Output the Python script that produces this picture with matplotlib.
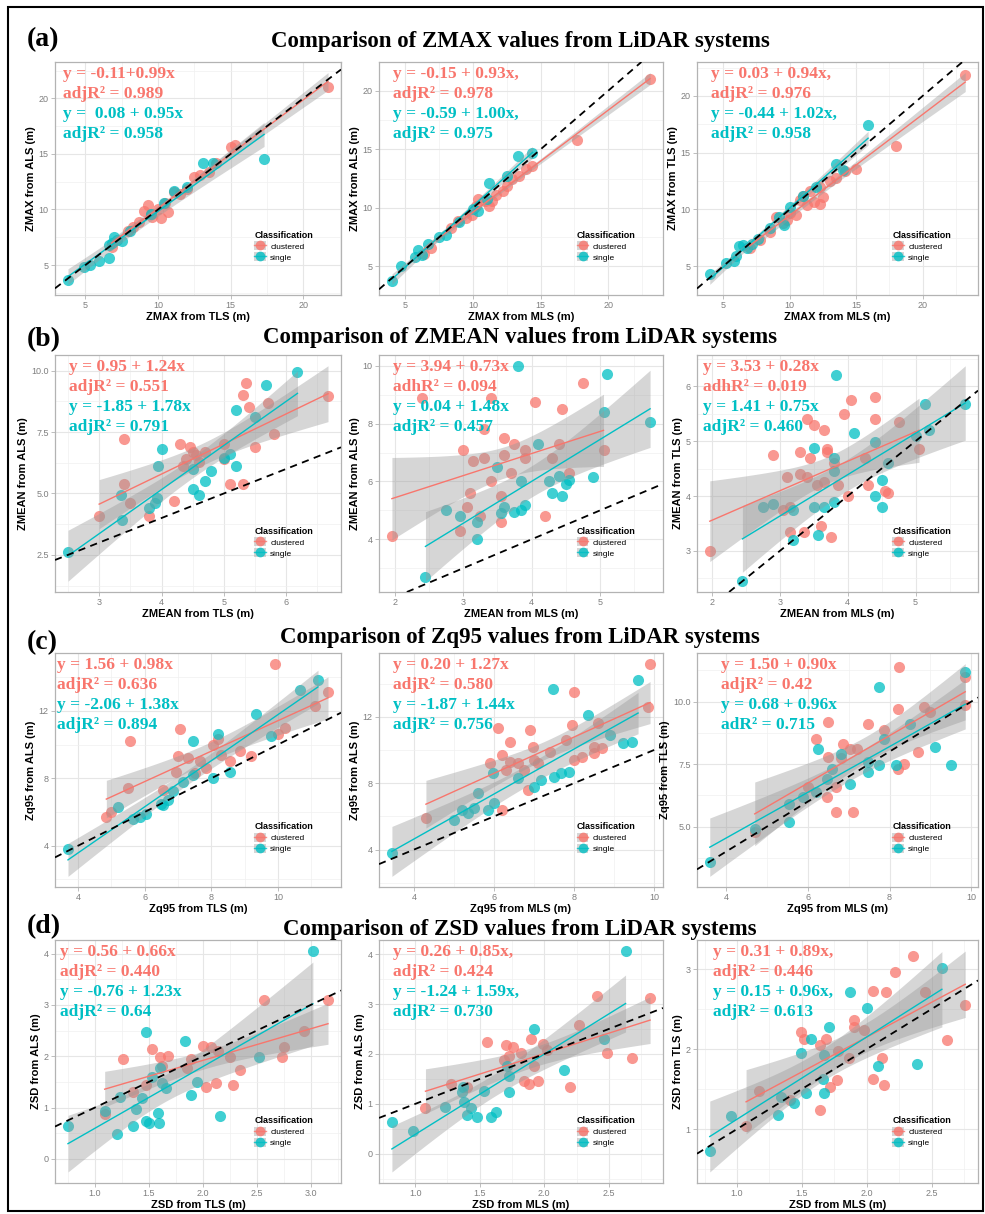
import numpy as np
import matplotlib
matplotlib.use("Agg")
import matplotlib.pyplot as plt
from matplotlib.patches import Patch, Rectangle
from matplotlib.lines import Line2D

CLU = "#F8766D"
SIN = "#00BFC4"
SERIF = "Liberation Serif"
SANS = "Liberation Sans"

# ---------------- (a) ZMAX ----------------
a1_clu_x = [21.7, 15.0, 15.3, 12.9, 12.5, 11.1, 11.5, 9.0, 9.5, 10.0, 10.7, 8.7, 8.3, 7.9, 9.3, 9.6, 10.5, 12.0, 13.5, 14.0, 6.8, 10.2]
a1_clu_y = [21.0, 15.6, 15.8, 13.1, 12.9, 11.6, 11.4, 9.9, 9.6, 10.0, 9.8, 8.9, 8.4, 8.1, 10.4, 9.3, 10.6, 11.8, 13.4, 14.2, 6.6, 9.2]
a1_sin_x = [3.8, 4.9, 5.9, 6.6, 6.8, 7.2, 7.0, 6.6, 8.1, 13.1, 13.8, 17.3, 11.1, 10.4, 9.5, 12.0, 5.3, 7.5]
a1_sin_y = [3.7, 4.8, 5.4, 5.6, 7.0, 7.3, 7.5, 6.8, 8.1, 14.2, 14.2, 14.5, 11.7, 10.6, 9.6, 12.0, 5.0, 7.2]

a2_clu_x = [23.1, 17.7, 13.9, 13.4, 14.4, 10.4, 10.9, 11.4, 11.7, 11.2, 10.2, 9.9, 9.5, 8.9, 8.4, 6.9, 12.2, 12.5, 12.9, 6.4]
a2_clu_y = [21.0, 15.8, 13.3, 12.7, 13.6, 10.8, 10.6, 10.6, 11.1, 10.2, 10.2, 9.4, 9.1, 8.9, 8.3, 6.6, 11.4, 11.9, 12.5, 6.1]
a2_sin_x = [4.0, 4.7, 5.7, 6.2, 5.9, 6.7, 7.5, 8.0, 10.4, 13.3, 14.4, 12.5, 11.2, 9.0, 10.0, 11.0]
a2_sin_y = [3.8, 5.0, 5.8, 6.0, 6.4, 6.9, 7.5, 7.7, 9.7, 14.4, 14.7, 12.7, 12.1, 8.8, 9.9, 10.8]

a3_clu_x = [23.2, 18.0, 10.8, 11.3, 11.8, 12.3, 12.5, 11.5, 10.0, 9.8, 9.5, 12.3, 13.5, 14.2, 15.0, 7.8, 7.0, 9.0, 8.5, 10.5, 13.0, 11.0]
a3_clu_y = [21.8, 15.6, 10.8, 10.4, 10.7, 10.5, 11.1, 11.6, 9.7, 9.1, 8.8, 12.0, 12.8, 13.4, 13.6, 7.3, 6.6, 9.3, 8.0, 9.5, 12.5, 11.2]
a3_sin_x = [4.0, 5.2, 5.8, 6.2, 6.5, 6.8, 7.2, 7.6, 6.0, 8.5, 9.2, 10.0, 11.0, 12.0, 13.5, 15.9, 14.0, 9.6]
a3_sin_y = [4.3, 5.3, 5.5, 6.8, 6.9, 6.6, 7.0, 7.4, 5.9, 8.4, 9.3, 10.2, 11.2, 12.0, 14.0, 17.4, 13.5, 8.6]

# ---------------- (b) ZMEAN ----------------
b1_clu_x = [6.67, 5.35, 5.3, 5.4, 5.7, 5.8, 5.5, 5.0, 4.7, 4.45, 4.5, 4.4, 4.35, 4.6, 4.55, 3.4, 3.4, 3.5, 3.8, 3.0, 4.2, 5.1, 5.3, 5.0, 4.3]
b1_clu_y = [8.95, 9.5, 9.0, 8.5, 8.7, 7.4, 6.9, 7.0, 6.7, 6.9, 6.7, 6.4, 6.1, 6.3, 6.55, 7.2, 5.4, 4.6, 4.1, 4.1, 4.7, 5.4, 5.4, 6.4, 7.0]
b1_sin_x = [2.5, 6.18, 5.68, 5.2, 4.0, 3.95, 5.2, 5.1, 5.0, 4.8, 4.7, 4.5, 4.5, 4.6, 3.93, 3.9, 3.8, 3.37, 5.5, 3.35]
b1_sin_y = [2.6, 9.95, 9.4, 8.4, 6.8, 6.1, 6.1, 6.6, 6.45, 5.9, 5.5, 6.0, 5.2, 4.95, 4.8, 4.6, 4.4, 3.9, 8.1, 4.95]

b2_clu_x = [1.96, 4.75, 4.05, 4.45, 3.4, 2.4, 3.3, 3.0, 3.6, 3.75, 3.9, 3.9, 3.6, 3.3, 3.15, 3.4, 3.7, 3.55, 3.1, 3.05, 2.95, 3.25, 3.55, 4.2, 4.3, 4.4, 4.55, 5.05]
b2_clu_y = [4.1, 9.4, 8.75, 8.5, 8.9, 8.9, 7.8, 7.1, 7.5, 7.3, 7.1, 6.8, 6.9, 6.8, 6.7, 6.0, 6.3, 5.5, 5.6, 5.1, 4.3, 4.8, 4.6, 4.8, 6.8, 7.3, 6.3, 7.1]
b2_sin_x = [3.8, 5.1, 5.05, 5.73, 4.9, 4.1, 3.5, 3.85, 4.25, 4.4, 4.5, 4.3, 3.6, 3.75, 3.85, 3.9, 3.55, 3.2, 2.75, 2.95, 3.2, 2.45, 4.55, 4.45]
b2_sin_y = [10.0, 9.7, 8.4, 8.05, 6.15, 7.3, 6.5, 6.0, 6.0, 6.2, 5.9, 5.6, 5.1, 4.95, 5.0, 5.2, 4.9, 4.6, 5.0, 4.8, 4.0, 2.7, 6.05, 5.5]

b3_clu_x = [1.97, 4.4, 4.05, 3.95, 3.4, 3.5, 3.65, 4.4, 4.75, 3.7, 3.7, 3.3, 3.45, 3.8, 3.3, 3.4, 3.55, 3.65, 3.85, 4.3, 4.55, 3.1, 3.15, 3.05, 3.15, 3.35, 3.6, 3.75, 4.25, 5.05, 4.6, 4.0, 2.9]
b3_clu_y = [3.0, 5.8, 5.75, 5.5, 5.4, 5.3, 5.2, 5.4, 5.35, 4.85, 4.8, 4.8, 4.7, 4.6, 4.4, 4.35, 4.2, 4.25, 4.2, 4.2, 4.1, 4.35, 3.8, 3.75, 3.35, 3.35, 3.45, 3.25, 4.7, 4.85, 4.05, 4.0, 4.75]
b3_sin_x = [2.45, 3.83, 4.1, 5.14, 5.73, 4.4, 3.5, 3.8, 3.8, 3.5, 3.65, 3.8, 3.56, 3.2, 2.75, 2.9, 3.2, 4.5, 4.4, 4.5, 5.0, 4.6, 5.2]
b3_sin_y = [2.45, 6.2, 5.15, 5.68, 5.67, 4.98, 4.88, 4.7, 4.45, 3.8, 3.8, 3.9, 3.3, 3.2, 3.8, 3.85, 3.75, 4.3, 4.0, 3.8, 5.1, 4.6, 5.2]

# ---------------- (c) Zq95 ----------------
c1_clu_x = [9.9, 11.5, 11.1, 10.2, 7.05, 5.55, 7.0, 7.3, 7.65, 8.05, 8.2, 8.55, 8.85, 9.2, 6.95, 7.85, 5.5, 6.55, 4.85, 5.0, 7.5, 8.3, 10.0]
c1_clu_y = [14.8, 13.1, 12.3, 11.0, 10.9, 10.2, 9.35, 9.2, 9.0, 9.95, 10.35, 9.0, 9.6, 9.3, 8.4, 8.6, 7.45, 7.3, 5.7, 6.0, 8.3, 9.4, 10.6]
c1_sin_x = [3.7, 5.2, 5.65, 5.85, 6.05, 6.5, 6.7, 6.55, 6.85, 7.15, 7.45, 7.45, 8.05, 8.55, 8.2, 9.35, 10.65, 11.2, 9.8]
c1_sin_y = [3.8, 6.3, 5.6, 5.7, 5.9, 6.45, 6.7, 6.4, 7.25, 7.8, 8.2, 10.2, 8.0, 8.4, 10.6, 11.8, 13.25, 13.8, 10.5]

c2_clu_x = [9.9, 9.85, 8.0, 7.96, 8.6, 8.5, 7.8, 7.4, 6.9, 6.97, 6.4, 6.1, 6.2, 5.9, 6.4, 6.6, 7.0, 7.1, 6.3, 6.75, 8.0, 8.2, 8.5, 8.7, 4.3, 6.2, 6.85]
c2_clu_y = [15.2, 12.6, 13.5, 11.5, 11.6, 10.2, 10.6, 9.9, 11.2, 10.2, 10.5, 11.3, 9.7, 9.2, 9.3, 9.2, 9.4, 9.2, 8.8, 8.8, 9.4, 9.6, 9.8, 10.1, 5.9, 6.4, 7.6]
c2_sin_x = [3.45, 7.47, 9.6, 8.34, 9.45, 9.23, 8.9, 7.87, 7.67, 7.5, 7.17, 5.98, 6.6, 5.6, 5.2, 5.36, 5.5, 5.86, 6.0, 5.0, 7.0]
c2_sin_y = [3.8, 13.7, 14.2, 12.1, 10.5, 10.4, 10.9, 8.7, 8.6, 8.4, 8.2, 8.6, 8.3, 7.4, 6.4, 6.2, 6.5, 6.4, 6.8, 5.8, 7.8]

c3_clu_x = [8.23, 9.85, 8.85, 8.2, 7.46, 6.5, 6.2, 6.5, 6.86, 7.04, 7.2, 6.8, 7.86, 8.7, 8.2, 8.35, 9.85, 6.46, 6.7, 7.1, 4.7, 6.0, 6.7, 9.0]
c3_clu_y = [11.4, 11.0, 9.8, 9.7, 9.1, 9.2, 8.5, 7.8, 8.3, 8.1, 8.1, 7.75, 8.85, 8.0, 7.3, 7.5, 9.85, 6.2, 5.6, 5.6, 4.8, 6.6, 6.6, 9.6]
c3_sin_x = [3.6, 9.85, 7.73, 9.1, 9.5, 8.15, 7.73, 7.86, 8.5, 7.46, 7.04, 7.46, 6.8, 6.24, 6.46, 6.2, 5.87, 5.54, 5.54, 4.7, 6.6]
c3_sin_y = [3.6, 11.2, 10.6, 8.2, 7.45, 7.45, 7.45, 8.5, 9.1, 7.6, 6.7, 7.2, 7.9, 8.1, 6.9, 6.4, 6.2, 5.9, 5.2, 4.9, 7.3]

# ---------------- (d) ZSD ----------------
d1_clu_x = [3.16, 2.57, 2.94, 2.75, 2.73, 2.0, 2.08, 2.14, 1.89, 1.85, 1.53, 1.6, 1.68, 1.26, 2.03, 2.12, 2.28, 2.34, 2.25, 1.47, 1.35, 1.09, 1.62]
d1_clu_y = [3.1, 3.1, 2.5, 2.18, 1.98, 2.2, 2.18, 2.1, 1.94, 1.78, 2.14, 1.98, 2.0, 1.94, 1.4, 1.48, 1.44, 1.74, 1.98, 1.44, 1.3, 0.88, 1.8]
d1_sin_x = [0.75, 3.02, 1.47, 1.83, 2.52, 2.16, 1.89, 1.95, 1.62, 1.66, 1.6, 1.53, 1.44, 1.47, 1.5, 1.59, 1.58, 1.38, 1.35, 1.2, 1.09, 1.23]
d1_sin_y = [0.64, 4.05, 2.48, 2.3, 1.98, 0.84, 1.24, 1.5, 1.48, 1.38, 1.78, 1.6, 1.18, 0.74, 0.7, 0.7, 0.9, 0.98, 0.64, 0.48, 0.94, 1.2]

d2_clu_x = [2.82, 2.41, 2.27, 2.49, 2.68, 2.2, 1.9, 1.56, 1.7, 1.76, 1.82, 1.73, 1.69, 1.99, 2.02, 1.92, 1.84, 1.95, 1.28, 1.4, 1.08, 1.88]
d2_clu_y = [3.13, 3.17, 2.58, 2.02, 1.92, 1.33, 2.3, 2.23, 2.17, 2.13, 2.02, 1.96, 1.88, 2.19, 2.08, 1.75, 1.46, 1.46, 1.4, 1.33, 0.92, 1.4]
d2_sin_x = [0.82, 0.98, 2.63, 1.92, 2.46, 2.15, 1.73, 1.73, 1.53, 1.36, 1.38, 1.43, 1.48, 1.4, 1.59, 1.63, 1.23, 1.37, 1.71]
d2_sin_y = [0.63, 0.46, 4.06, 2.5, 2.3, 1.67, 1.56, 1.23, 1.25, 1.23, 1.04, 0.92, 0.73, 0.77, 0.73, 0.83, 0.94, 1.33, 1.75]

d3_clu_x = [2.36, 2.22, 2.15, 2.05, 2.45, 2.76, 2.62, 1.9, 1.9, 1.98, 1.49, 1.52, 1.69, 1.64, 1.78, 1.86, 2.12, 2.05, 2.13, 1.77, 1.72, 1.64, 1.41, 1.17, 1.07]
d3_clu_y = [3.16, 2.96, 2.72, 2.73, 2.72, 2.55, 2.11, 2.36, 2.27, 2.24, 2.21, 2.13, 2.13, 2.05, 1.97, 1.89, 1.89, 1.63, 1.55, 1.61, 1.52, 1.24, 1.36, 1.48, 1.04]
d3_sin_x = [0.79, 0.95, 1.32, 2.58, 2.39, 2.09, 2.0, 1.87, 1.71, 1.57, 1.49, 1.67, 1.66, 1.67, 1.53, 1.44, 1.34]
d3_sin_y = [0.73, 1.16, 1.18, 3.02, 1.81, 1.79, 2.52, 2.72, 2.27, 2.13, 1.95, 1.93, 1.63, 1.45, 1.45, 1.33, 1.4]

# ticks
zmax_ticks = [5, 10, 15, 20]
b1_xticks, b1_yticks = [3, 4, 5, 6], [2.5, 5.0, 7.5, 10.0]
b2_xticks, b2_yticks = [2, 3, 4, 5], [4, 6, 8, 10]
b3_xticks, b3_yticks = [2, 3, 4, 5], [3, 4, 5, 6]
zq_xticks = [4, 6, 8, 10]
c12_yticks = [4, 8, 12]
c3_yticks = [5.0, 7.5, 10.0]
d1_xticks = [1.0, 1.5, 2.0, 2.5, 3.0]
d23_xticks = [1.0, 1.5, 2.0, 2.5]
d12_yticks = [0, 1, 2, 3, 4]
d3_yticks = [1, 2, 3]

# equation labels (clustered, clustered, single, single)
a1_eq = ["y = -0.11+0.99x", "adjR² = 0.989", "y =  0.08 + 0.95x", "adjR² = 0.958"]
a2_eq = ["y = -0.15 + 0.93x,", "adjR² = 0.978", "y = -0.59 + 1.00x,", "adjR² = 0.975"]
a3_eq = ["y = 0.03 + 0.94x,", "adjR² = 0.976", "y = -0.44 + 1.02x,", "adjR² = 0.958"]
b1_eq = ["y = 0.95 + 1.24x", "adjR² = 0.551", "y = -1.85 + 1.78x", "adjR² = 0.791"]
b2_eq = ["y = 3.94 + 0.73x", "adhR² = 0.094", "y = 0.04 + 1.48x", "adjR² = 0.457"]
b3_eq = ["y = 3.53 + 0.28x", "adhR² = 0.019", "y = 1.41 + 0.75x", "adjR² = 0.460"]
c1_eq = ["y = 1.56 + 0.98x", "adjR² = 0.636", "y = -2.06 + 1.38x", "adjR² = 0.894"]
c2_eq = ["y = 0.20 + 1.27x", "adjR² = 0.580", "y = -1.87 + 1.44x", "adjR² = 0.756"]
c3_eq = ["y = 1.50 + 0.90x", "adjR² = 0.42", "y = 0.68 + 0.96x", "adR² = 0.715"]
d1_eq = ["y = 0.56 + 0.66x", "adjR² = 0.440", "y = -0.76 + 1.23x", "adjR² = 0.64"]
d2_eq = ["y = 0.26 + 0.85x,", "adjR² = 0.424", "y = -1.24 + 1.59x,", "adjR² = 0.730"]
d3_eq = ["y = 0.31 + 0.89x,", "adjR² = 0.446", "y = 0.15 + 0.96x,", "adjR² = 0.613"]

row_tags = ["(a)", "(b)", "(c)", "(d)"]
row_titles = ["Comparison of ZMAX values from LiDAR systems",
              "Comparison of ZMEAN values from LiDAR systems",
              "Comparison of Zq95 values from LiDAR systems",
              "Comparison of ZSD values from LiDAR systems"]

panels = [
    # row, col, data, xlabel, ylabel, xticks, yticks, eq, text x offset (px)
    (0, 0, (a1_clu_x, a1_clu_y, a1_sin_x, a1_sin_y), "ZMAX from TLS (m)", "ZMAX from ALS (m)", zmax_ticks, zmax_ticks, a1_eq, 8),
    (0, 1, (a2_clu_x, a2_clu_y, a2_sin_x, a2_sin_y), "ZMAX from MLS (m)", "ZMAX from ALS (m)", zmax_ticks, zmax_ticks, a2_eq, 14),
    (0, 2, (a3_clu_x, a3_clu_y, a3_sin_x, a3_sin_y), "ZMAX from MLS (m)", "ZMAX from TLS (m)", zmax_ticks, zmax_ticks, a3_eq, 14),
    (1, 0, (b1_clu_x, b1_clu_y, b1_sin_x, b1_sin_y), "ZMEAN from TLS (m)", "ZMEAN from ALS (m)", b1_xticks, b1_yticks, b1_eq, 14),
    (1, 1, (b2_clu_x, b2_clu_y, b2_sin_x, b2_sin_y), "ZMEAN from MLS (m)", "ZMEAN from ALS (m)", b2_xticks, b2_yticks, b2_eq, 14),
    (1, 2, (b3_clu_x, b3_clu_y, b3_sin_x, b3_sin_y), "ZMEAN from MLS (m)", "ZMEAN from TLS (m)", b3_xticks, b3_yticks, b3_eq, 6),
    (2, 0, (c1_clu_x, c1_clu_y, c1_sin_x, c1_sin_y), "Zq95 from TLS (m)", "Zq95 from ALS (m)", zq_xticks, c12_yticks, c1_eq, 2),
    (2, 1, (c2_clu_x, c2_clu_y, c2_sin_x, c2_sin_y), "Zq95 from MLS (m)", "Zq95 from ALS (m)", zq_xticks, c12_yticks, c2_eq, 14),
    (2, 2, (c3_clu_x, c3_clu_y, c3_sin_x, c3_sin_y), "Zq95 from MLS (m)", "Zq95 from TLS (m)", zq_xticks, c3_yticks, c3_eq, 24),
    (3, 0, (d1_clu_x, d1_clu_y, d1_sin_x, d1_sin_y), "ZSD from TLS (m)", "ZSD from ALS (m)", d1_xticks, d12_yticks, d1_eq, 5),
    (3, 1, (d2_clu_x, d2_clu_y, d2_sin_x, d2_sin_y), "ZSD from MLS (m)", "ZSD from ALS (m)", d23_xticks, d12_yticks, d2_eq, 14),
    (3, 2, (d3_clu_x, d3_clu_y, d3_sin_x, d3_sin_y), "ZSD from MLS (m)", "ZSD from TLS (m)", d23_xticks, d3_yticks, d3_eq, 16),
]

W, H = 985, 1214
cols_px = [(55, 341), (379, 663), (697, 978)]
rows_px = [(62, 295), (355, 592), (653, 887), (940, 1183)]
tag_y = [40, 340, 643, 927]
title_y = [42, 338, 638, 930]

fig = plt.figure(figsize=(W / 100, H / 100), dpi=100)
fig.patch.set_facecolor("white")


def fmt(ticks):
    if any(float(t) != int(t) for t in ticks):
        return [f"{t:.1f}" for t in ticks]
    return [f"{int(t)}" for t in ticks]


def minors(ticks):
    st = ticks[1] - ticks[0]
    return [ticks[0] - st / 2] + [t + st / 2 for t in ticks]


for row, col, data, xlab, ylab, xt, yt, eq, xoff in panels:
    l, r = cols_px[col]
    t, b = rows_px[row]
    ax = fig.add_axes([l / W, 1 - b / H, (r - l) / W, (b - t) / H])
    ax.set_facecolor("white")
    cx, cy, sx, sy = data
    for x, y, c in ((cx, cy, CLU), (sx, sy, SIN)):
        ax.scatter(x, y, s=64, color=c, alpha=0.75, lw=0, zorder=3)
    # linear fit with 95% confidence band (geom_smooth(method = "lm") look)
    for x, y, c in ((cx, cy, CLU), (sx, sy, SIN)):
        x = np.asarray(x, float)
        y = np.asarray(y, float)
        n = len(x)
        slope, icpt = np.polyfit(x, y, 1)
        xs = np.linspace(x.min(), x.max(), 100)
        fit = icpt + slope * xs
        s = np.sqrt(np.sum((y - icpt - slope * x) ** 2) / (n - 2))
        se = s * np.sqrt(1 / n + (xs - x.mean()) ** 2 / np.sum((x - x.mean()) ** 2))
        tq = 1.96 + 2.4 / (n - 2)
        ax.fill_between(xs, fit - tq * se, fit + tq * se, color="#999999", alpha=0.4, lw=0, zorder=4)
        ax.plot(xs, fit, color=c, lw=1.0, zorder=5)
    ax.margins(0.05)
    ax.autoscale_view()
    xl, yl = ax.get_xlim(), ax.get_ylim()
    ax.axline((xl[0], xl[0]), slope=1, color="black", lw=1.3, ls=(0, (4, 3)), zorder=6,
              transform=ax.transData)
    ax.set_xticks(xt)
    ax.set_xticklabels(fmt(xt))
    ax.set_yticks(yt)
    ax.set_yticklabels(fmt(yt))
    ax.set_xticks(minors(xt), minor=True)
    ax.set_yticks(minors(yt), minor=True)
    ax.set_xlim(xl)
    ax.set_ylim(yl)
    ax.set_axisbelow(True)
    ax.grid(True, which="major", color="#E6E6E6", lw=0.8)
    ax.grid(True, which="minor", color="#F0F0F0", lw=0.5)
    for sp in ax.spines.values():
        sp.set_edgecolor("#B3B3B3")
        sp.set_linewidth(0.9)
    ax.tick_params(which="major", length=3, width=0.6, color="#B3B3B3",
                   labelcolor="#7F7F7F", labelsize=6.5, pad=1.5)
    ax.tick_params(which="minor", length=0)
    for lab in ax.get_xticklabels() + ax.get_yticklabels():
        lab.set_family(SANS)
    ax.set_xlabel(xlab, fontsize=8, fontweight="bold", family=SANS, labelpad=1.5)
    ax.set_ylabel(ylab, fontsize=8, fontweight="bold", family=SANS, labelpad=2)

    for i, (txt, c) in enumerate(zip(eq, [CLU, CLU, SIN, SIN])):
        ax.annotate(txt, xy=(0, 1), xycoords="axes fraction",
                    xytext=(xoff, -12 - 20 * i), textcoords="offset pixels",
                    ha="left", va="center", fontsize=12.5, fontweight="bold",
                    family=SERIF, color=c, zorder=8)

    handles = [(Patch(facecolor="#999999", alpha=0.4, lw=0),
                Line2D([0], [0], color=c, lw=1, marker="o", ms=7, mew=0, alpha=0.8))
               for c in (CLU, SIN)]
    leg = ax.legend(handles, ["clustered", "single"], title="Classification",
                    loc="center", bbox_to_anchor=(0.8, 0.21), frameon=False,
                    prop={"family": SANS, "size": 6},
                    title_fontproperties={"family": SANS, "size": 6.5, "weight": "bold"},
                    handlelength=1.4, handleheight=1.3, borderpad=0.2,
                    labelspacing=0.2, handletextpad=0.5, alignment="left")
    leg.set_zorder(9)

for i in range(4):
    fig.text(27 / W, 1 - tag_y[i] / H, row_tags[i], fontsize=20, fontweight="bold",
             family=SERIF, ha="left", va="center")
    fig.text(520 / W, 1 - title_y[i] / H, row_titles[i], fontsize=16.5, fontweight="bold",
             family=SERIF, ha="center", va="center")

fig.add_artist(Rectangle((8 / W, 1 - 1211 / H), 975 / W, 1204 / H, fill=False,
                         ec="black", lw=1.5, transform=fig.transFigure))

fig.savefig("out.png", dpi=100, facecolor="white")
